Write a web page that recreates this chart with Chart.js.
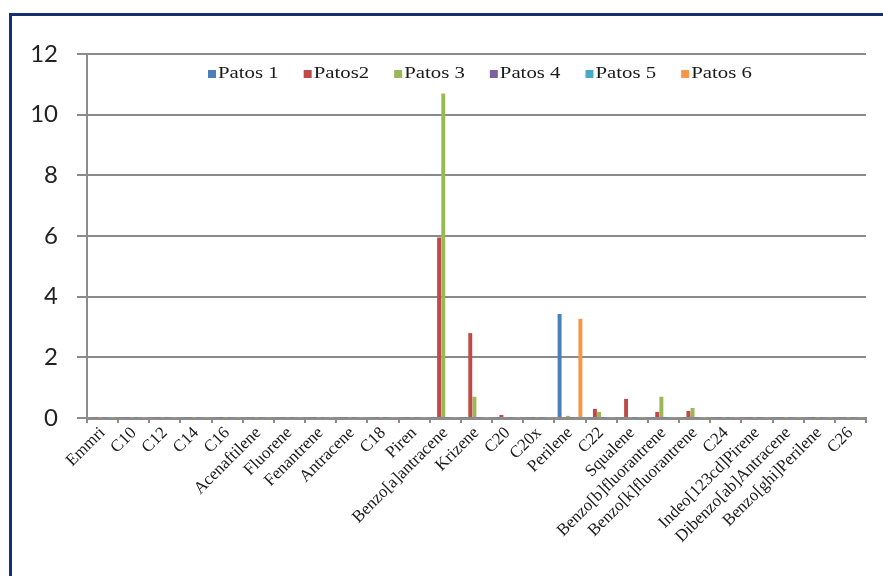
<!DOCTYPE html>
<html>
<head>
<meta charset="utf-8">
<script src="https://cdn.jsdelivr.net/npm/chart.js@4/dist/chart.umd.min.js"></script>
<style>
    html, body { margin: 0; padding: 0; background: #fff; overflow: hidden; }
    #wrap { position: relative; width: 883px; height: 576px; }
    #frame {
        position: absolute; left: 9px; top: 13px; width: 900px; height: 600px;
        border: 3px solid #142f72; box-sizing: border-box;
    }
    canvas { position: absolute; left: 0; top: 0; }
</style>
</head>
<body>
<div id="wrap">
    <div id="frame"></div>
    <canvas id="chart" width="883" height="576"></canvas>
</div>
<script>
const compounds = [
    "Emmri", "C10", "C12", "C14", "C16", "Acenaftilene", "Fluorene", "Fenantrene",
    "Antracene", "C18", "Piren", "Benzo[a]antracene", "Krizene", "C20", "C20x",
    "Perilene", "C22", "Squalene", "Benzo[b]fluorantrene", "Benzo[k]fluorantrene",
    "C24", "Indeo[123cd]Pirene", "Dibenzo[ab]Antracene", "Benzo[ghi]Perilene", "C26"
];

const patos1 = [0.02, 0.02, 0.02, 0.02, 0.02, 0.02, 0.02, 0.02, 0.02, 0.02, 0.02, 0.02, 0.02, 0.02, 0.02, 3.43, 0.02, 0.02, 0.02, 0.02, 0.02, 0.02, 0.02, 0.02, 0.02];
const patos2 = [0.02, 0.02, 0.02, 0.02, 0.02, 0.02, 0.02, 0.02, 0.02, 0.02, 0.02, 5.95, 2.8, 0.1, 0.02, 0.03, 0.3, 0.63, 0.2, 0.23, 0.02, 0.02, 0.02, 0.02, 0.02];
const patos3 = [0.02, 0.02, 0.02, 0.02, 0.02, 0.02, 0.02, 0.02, 0.02, 0.02, 0.02, 10.7, 0.7, 0.03, 0.02, 0.07, 0.2, 0.02, 0.7, 0.33, 0.02, 0.02, 0.02, 0.02, 0.02];
const patos4 = [0.02, 0.02, 0.02, 0.02, 0.02, 0.02, 0.02, 0.02, 0.02, 0.02, 0.02, 0.02, 0.02, 0.02, 0.02, 0.02, 0.02, 0.02, 0.02, 0.02, 0.02, 0.02, 0.02, 0.02, 0.02];
const patos5 = [0.02, 0.02, 0.02, 0.02, 0.02, 0.02, 0.02, 0.02, 0.02, 0.02, 0.02, 0.02, 0.02, 0.02, 0.02, 0.02, 0.02, 0.02, 0.02, 0.02, 0.02, 0.02, 0.02, 0.02, 0.02];
const patos6 = [0.02, 0.02, 0.02, 0.02, 0.02, 0.02, 0.02, 0.02, 0.02, 0.02, 0.02, 0.02, 0.02, 0.02, 0.02, 3.27, 0.02, 0.02, 0.02, 0.02, 0.02, 0.02, 0.02, 0.02, 0.02];

const seriesNames = ["Patos 1", "Patos2", "Patos 3", "Patos 4", "Patos 5", "Patos 6"];
const seriesColors = ["#4a7ebb", "#be4b48", "#98b954", "#7d60a0", "#46aac5", "#f79646"];
const seriesData = [patos1, patos2, patos3, patos4, patos5, patos6];

// Legend sits inside the plot area, so draw it ourselves
const insideLegend = {
    id: "insideLegend",
    afterDraw(chart) {
        const ctx = chart.ctx;
        const stretch = 1.3;
        ctx.save();
        ctx.font = "16px 'Liberation Serif', 'Times New Roman', serif";
        ctx.textBaseline = "middle";
        let x = 208;
        const y = 74;
        chart.data.datasets.forEach(ds => {
            ctx.fillStyle = ds.backgroundColor;
            ctx.fillRect(x, y - 4, 8, 8);
            const w = ctx.measureText(ds.label).width * stretch;
            ctx.save();
            ctx.translate(x + 10, y);
            ctx.scale(stretch, 1);
            ctx.fillStyle = "#1a1a1a";
            ctx.fillText(ds.label, 0, 0);
            ctx.restore();
            x += 10 + w + 25;
        });
        ctx.restore();
    }
};

new Chart(document.getElementById("chart"), {
    type: "bar",
    data: {
        labels: compounds,
        datasets: seriesNames.map((name, i) => ({
            label: name,
            data: seriesData[i],
            backgroundColor: seriesColors[i],
            categoryPercentage: 0.8,
            barPercentage: 0.95
        }))
    },
    options: {
        responsive: false,
        animation: false,
        layout: {
            padding: { left: 0, right: 17, top: 54, bottom: 0 }
        },
        scales: {
            x: {
                grid: {
                    display: true,
                    drawOnChartArea: false,
                    tickLength: 5,
                    tickColor: "#8c8c8c",
                    lineWidth: 2
                },
                border: { color: "#8c8c8c", width: 3 },
                ticks: {
                    autoSkip: false,
                    maxRotation: 45,
                    minRotation: 45,
                    padding: 0,
                    color: "#1a1a1a",
                    font: { family: "'Liberation Serif', 'Times New Roman', serif", size: 17 }
                },
                afterFit: scale => { scale.height = 158; }
            },
            y: {
                min: 0,
                max: 12,
                ticks: {
                    stepSize: 2,
                    padding: 19,
                    color: "#222",
                    font: { family: "Lato, 'Open Sans', sans-serif", size: 24 }
                },
                grid: {
                    color: "#8a8a8a",
                    lineWidth: 2,
                    tickLength: 10,
                    tickColor: "#8a8a8a"
                },
                border: { color: "#8c8c8c", width: 2 },
                afterFit: scale => { scale.width = 87; }
            }
        },
        plugins: {
            legend: { display: false },
            tooltip: { enabled: false }
        }
    },
    plugins: [insideLegend]
});
</script>
</body>
</html>
